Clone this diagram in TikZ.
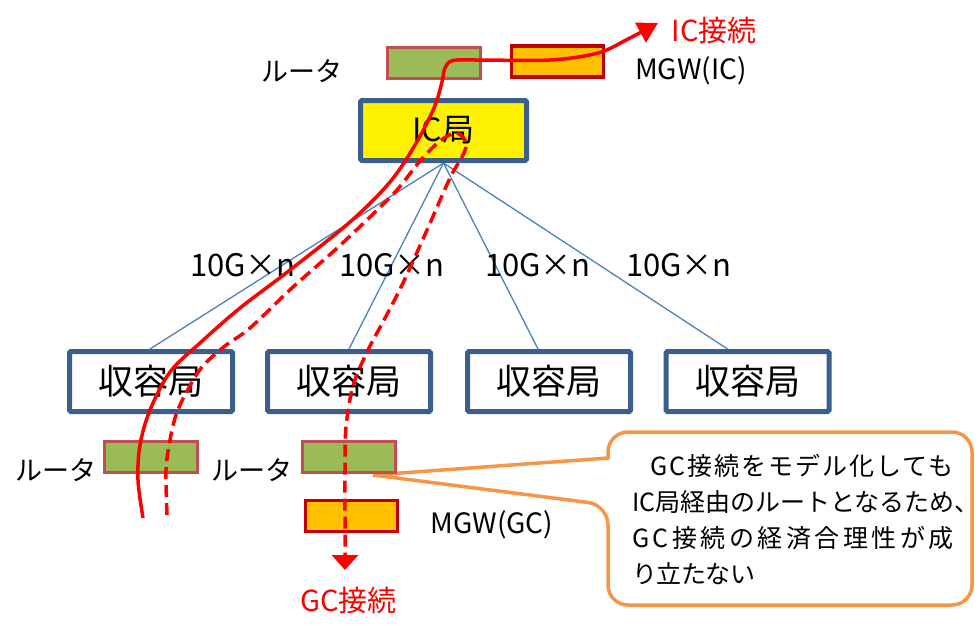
\documentclass[tikz,border=0pt]{standalone}
\usepackage{fontspec}
\setmainfont{Noto Sans CJK JP}
\usetikzlibrary{arrows.meta,backgrounds}
\definecolor{rgreen}{HTML}{9BBB59}
\definecolor{rborder}{HTML}{C0504D}
\definecolor{mfill}{HTML}{FFC000}
\definecolor{mborder}{HTML}{C00000}
\definecolor{bblue}{HTML}{3A5F8C}
\definecolor{lblue}{HTML}{4F81BD}
\definecolor{corange}{HTML}{F79646}
\definecolor{pred}{HTML}{FF0000}
\begin{document}
\begin{tikzpicture}[x=1pt,y=-1pt,
  office/.style={draw=bblue, line width=5pt, fill=white, minimum width=163pt, minimum height=60pt, inner sep=0pt, rounded corners=1.5pt, font=\fontsize{35pt}{40pt}\selectfont},
  icoffice/.style={draw=bblue, line width=5pt, fill=yellow, minimum width=166pt, minimum height=60pt, inner sep=0pt, rounded corners=1.5pt, font=\fontsize{32pt}{38pt}\selectfont},
  router/.style={draw=rborder, line width=3pt, fill=rgreen, minimum width=93pt, minimum height=31pt, inner sep=0pt},
  mgw/.style={draw=mborder, line width=3.5pt, fill=mfill, minimum width=92pt, minimum height=31pt, inner sep=0pt},
  lbl/.style={inner sep=0pt, font=\fontsize{27pt}{30pt}\selectfont},
  mgwlbl/.style={inner sep=0pt, font=\fontsize{28pt}{30pt}\selectfont},
  bw/.style={inner sep=0pt, font=\fontsize{31pt}{34pt}\selectfont},
  redlbl/.style={inner sep=0pt, text=pred, font=\fontsize{29pt}{32pt}\selectfont},
  link/.style={draw=lblue, line width=1.3pt},
  route/.style={draw=pred, line width=3.5pt},
  gcroute/.style={draw=pred, line width=3.5pt, dash pattern=on 12pt off 6pt}
]
\useasboundingbox (0,0) rectangle (979,625);

% offices
\node[icoffice] (ic) at (443.5,130.5) {IC局};
\node[office] (o1) at (151,381.5) {\raisebox{-3pt}{収容局}};
\node[office] (o2) at (349,381.5) {\raisebox{-3pt}{収容局}};
\node[office] (o3) at (549,381.5) {\raisebox{-3pt}{収容局}};
\node[office] (o4) at (747.5,381.5) {\raisebox{-3pt}{収容局}};

\begin{scope}[on background layer]
  \fill[white] (0,0) rectangle (979,625);
  \draw[link] (ic.south) -- ([xshift=-1pt]o1.north);
  \draw[link] (ic.south) -- (o2.north);
  \draw[link] (ic.south) -- ([xshift=-11pt]o3.north);
  \draw[link] (ic.south) -- ([xshift=-20pt]o4.north);
\end{scope}

% link labels
\node[bw] (l1) at (243,265.5) {10G×n};
\node[bw] (l2) at (392,265.5) {10G×n};
\node[bw] (l3) at (538,265.5) {10G×n};
\node[bw] (l4) at (679,265.5) {10G×n};

% callout
\draw[corange, line width=3.5pt, fill=white]
  (608,458) [rounded corners=20pt] -- (608,432) -- (972,432) -- (972,605) -- (608,605) -- (608,505)
  [sharp corners] -- (373,475) -- cycle;
\node[inner sep=0pt, anchor=west, align=left, font=\fontsize{25pt}{36pt}\selectfont] (note) at (632,519)
  {\hspace{18pt}{\addfontfeature{LetterSpace=8}GC接続をモデル化しても}\\
   IC局経由のルートとなるため、\\
   {\addfontfeature{LetterSpace=14}GC接続の経済合理性が成}\\
   {\addfontfeature{LetterSpace=-2}り立たない}};

% routers and MGWs
\node[router] (rt) at (434,63) {};
\node[mgw] (mgwic) at (557.5,61.5) {};
\node[router] (rl) at (151,456.5) {};
\node[router] (rr) at (349,456.5) {};
\node[mgw] (mgwgc) at (351.5,516) {};

\node[lbl] (rtl) at (302,71) {ルータ};
\node[mgwlbl] (mgwicl) at (691,71) {MGW(IC)};
\node[lbl] (rll) at (56.5,470) {ルータ};
\node[lbl] (rrl) at (251.5,470) {ルータ};
\node[mgwlbl] (mgwgcl) at (492,525) {MGW(GC)};
\node[redlbl] (icc) at (714,30) {IC接続};
\node[redlbl] (gcc) at (348.5,600) {GC接続};

% routes
\coordinate (ics) at (143,518);
\coordinate (ice) at (658,23);
\coordinate (gcs) at (167,515);
\coordinate (gce) at (345,570);

\draw[route, -{Triangle[length=20pt,width=22pt]}] plot[smooth, tension=0.55] coordinates {
  (ics) (138,480) (140,445) (150,410) (170,372) (200,343) (240,308) (290,270)
  (350,222) (390,182) (415,145) (434,108) (442,82) (445,68) (453,60.5) (480,60)
  (550,60) (598,53) (628,39) (ice)};

\draw[gcroute, -{Triangle[length=15pt,width=26pt]}] plot[smooth, tension=0.55] coordinates {
  (gcs) (166,470) (170,440) (176,415) (186,393) (202,367) (225,346) (250,328)
  (293,287) (335,250) (370,217) (397,190) (420,161) (440,141) (456,133) (466,142)
  (463,155) (450,178) (427,230) (403,283) (384,320) (367,352) (353,386) (346,427)
  (345,470) (345,520) (gce)};
\end{tikzpicture}
\end{document}
